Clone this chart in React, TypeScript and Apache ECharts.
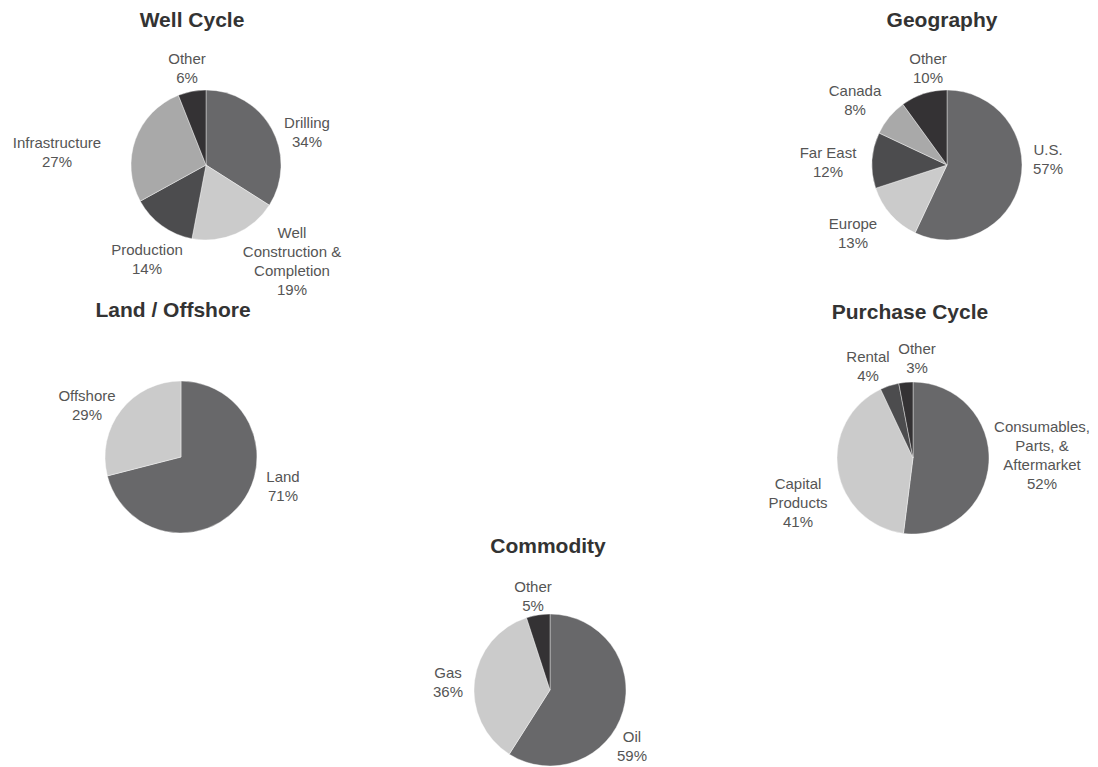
import React, { useEffect, useRef } from "react";
import * as echarts from "echarts";

// ---- Data ----
const wellCycleNames = ["Drilling", "Well\nConstruction &\nCompletion", "Production", "Infrastructure", "Other"];
const wellCycleValues = [34, 19, 14, 27, 6];

const geographyNames = ["U.S.", "Europe", "Far East", "Canada", "Other"];
const geographyValues = [57, 13, 12, 8, 10];

const landNames = ["Land", "Offshore"];
const landValues = [71, 29];

const purchaseNames = ["Consumables,\nParts, &\nAftermarket", "Capital\nProducts", "Rental", "Other"];
const purchaseValues = [52, 41, 4, 3];

const commodityNames = ["Oil", "Gas", "Other"];
const commodityValues = [59, 36, 5];

// ---- Styling ----
const C_MAIN = "#68686a";
const C_LIGHT = "#cbcbcb";
const C_DARK = "#4c4c4e";
const C_MID = "#a9a9a9";
const C_DARKEST = "#343234";

const FONT = "'Liberation Sans', Arial, Helvetica, sans-serif";

type PieCfg = {
  title: string;
  titleX: number;
  titleY: number;
  center: [number, number];
  radius: number;
  names: string[];
  values: number[];
  colors: string[];
  labelOffsets: [number, number][];
};

const pies: PieCfg[] = [
  {
    title: "Well Cycle",
    titleX: 192,
    titleY: 19,
    center: [206, 165],
    radius: 75,
    names: wellCycleNames,
    values: wellCycleValues,
    colors: [C_MAIN, C_LIGHT, C_DARK, C_MID, C_DARKEST],
    labelOffsets: [[101, -33], [86, 96], [-59, 94], [-149, -13], [-19, -97]],
  },
  {
    title: "Geography",
    titleX: 942,
    titleY: 19,
    center: [947, 165],
    radius: 75,
    names: geographyNames,
    values: geographyValues,
    colors: [C_MAIN, C_LIGHT, C_DARK, C_MID, C_DARKEST],
    labelOffsets: [[101, -6], [-94, 68], [-119, -3], [-92, -65], [-19, -97]],
  },
  {
    title: "Land / Offshore",
    titleX: 173,
    titleY: 309,
    center: [181, 457],
    radius: 76,
    names: landNames,
    values: landValues,
    colors: [C_MAIN, C_LIGHT],
    labelOffsets: [[102, 29], [-94, -52]],
  },
  {
    title: "Purchase Cycle",
    titleX: 910,
    titleY: 311,
    center: [913, 458],
    radius: 76,
    names: purchaseNames,
    values: purchaseValues,
    colors: [C_MAIN, C_LIGHT, C_DARK, C_DARKEST],
    labelOffsets: [[129, -3], [-115, 44], [-45, -92], [4, -100]],
  },
  {
    title: "Commodity",
    titleX: 548,
    titleY: 545,
    center: [550, 690],
    radius: 76,
    names: commodityNames,
    values: commodityValues,
    colors: [C_MAIN, C_LIGHT, C_DARKEST],
    labelOffsets: [[82, 56], [-102, -8], [-17, -94]],
  },
];

const TITLE_SIZE = 21;

export default function App() {
  const ref = useRef<HTMLDivElement>(null);

  useEffect(() => {
    if (!ref.current) return;
    const chart = echarts.init(ref.current, undefined, { renderer: "svg" });

    const titles = pies.map((p) => ({
      text: p.title,
      left: p.titleX,
      top: p.titleY - TITLE_SIZE / 2,
      textAlign: "center",
      padding: 0,
      textStyle: {
        fontFamily: FONT,
        fontSize: TITLE_SIZE,
        fontWeight: "bold",
        color: "#333333",
      },
    }));

    const series = pies.map((p) => ({
      type: "pie",
      center: p.center,
      radius: p.radius,
      startAngle: 90,
      clockwise: true,
      avoidLabelOverlap: false,
      silent: true,
      emphasis: { disabled: true },
      itemStyle: { borderColor: "#ffffff", borderWidth: 0.4 },
      label: {
        show: true,
        position: "outside",
        formatter: "{b}\n{c}%",
        fontFamily: FONT,
        fontSize: 15,
        lineHeight: 19,
        color: "#555555",
      },
      labelLine: { show: false },
      labelLayout: (params: any) => {
        const o = p.labelOffsets[params.dataIndex];
        return {
          x: p.center[0] + o[0],
          y: p.center[1] + o[1],
          align: "center",
          verticalAlign: "middle",
        };
      },
      data: p.names.map((n, i) => ({
        name: n,
        value: p.values[i],
        itemStyle: { color: p.colors[i] },
      })),
    }));

    chart.setOption({
      animation: false,
      backgroundColor: "#ffffff",
      title: titles,
      series,
    });

    return () => {
      chart.dispose();
    };
  }, []);

  return (
    <div
      ref={ref}
      style={{ position: "fixed", left: 0, top: 0, width: 1098, height: 767 }}
    />
  );
}
